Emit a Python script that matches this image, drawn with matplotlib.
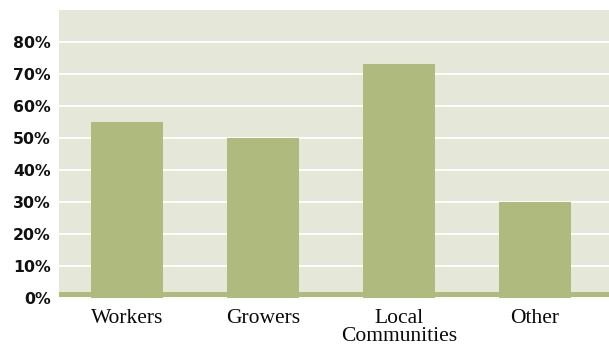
"""
    Bar chart: share by stakeholder group
"""
import numpy as np
import matplotlib
matplotlib.use("Agg")
import matplotlib.pyplot as plt

categories = ["Workers", "Growers", "Local\nCommunities", "Other"]
values = [55, 50, 73, 30]
y_ticks = [0, 10, 20, 30, 40, 50, 60, 70, 80]

bar_color = "#afba7e"
bg_color = "#e5e7d8"

fig = plt.figure(figsize=(6.09, 3.49), dpi=100)
ax = fig.add_axes([59 / 609, 50 / 349, 550 / 609, 289 / 349])
ax.set_facecolor(bg_color)

x = np.arange(len(categories))
for t in y_ticks:
    ax.axhline(t, color="white", lw=1.3, zorder=1)
# green baseline strip across the whole plot
ax.axhspan(0.3, 1.9, color=bar_color, lw=0, zorder=2)
ax.bar(x, values, width=0.53, color=bar_color, zorder=3)

ax.set_xlim(-0.5, 3.545)
ax.set_ylim(-0.3, 90)
ax.set_yticks(y_ticks)
ax.set_yticklabels([f"{t}%" for t in y_ticks], fontsize=11.3, fontweight="bold",
                   family="DejaVu Sans", color="#111111")
ax.set_xticks(x)
ax.set_xticklabels(categories, fontsize=15.5, family="Liberation Serif",
                   linespacing=0.95, color="#0a0a0a")
ax.tick_params(axis="both", length=0)
ax.tick_params(axis="y", pad=6)
ax.tick_params(axis="x", pad=7)
for side in ax.spines.values():
    side.set_visible(False)

fig.savefig("out.png", dpi=100)
